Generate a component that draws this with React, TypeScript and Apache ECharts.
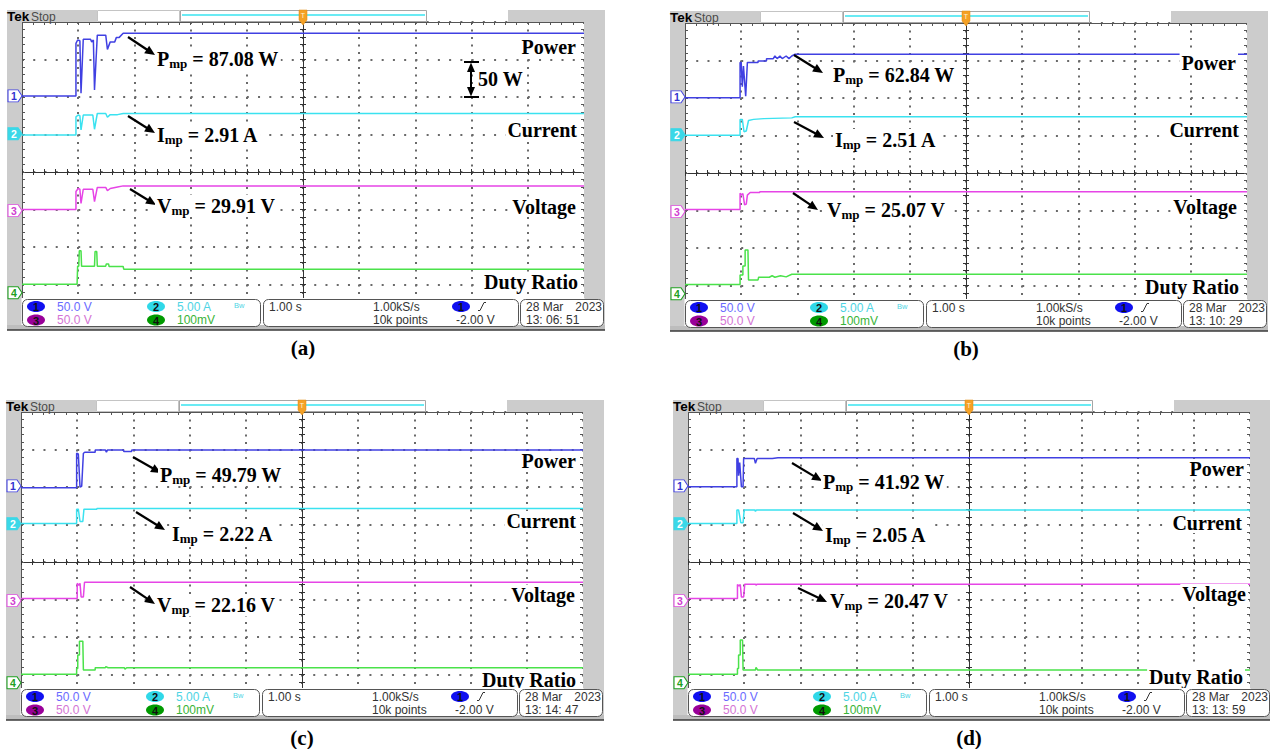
import React, { useEffect, useRef } from 'react';
import * as echarts from 'echarts';

// ---------------- data (vertical in divisions, time in s relative to trigger, 1 s/div) ----------------
const panelCaptions = ['(a)', '(b)', '(c)', '(d)'];
const traceLabels = ['Power', 'Current', 'Voltage', 'Duty Ratio'];
const pmpLabels = ['87.08 W', '62.84 W', '49.79 W', '41.92 W'];
const impLabels = ['2.91 A', '2.51 A', '2.22 A', '2.05 A'];
const vmpLabels = ['29.91 V', '25.07 V', '22.16 V', '20.47 V'];
const clockTimes = ['13: 06: 51', '13: 10: 29', '13: 14: 47', '13: 13: 59'];
const channelScales = ['50.0 V', '5.00 A', '50.0 V', '100mV'];
const groundMarkers = [2.03, 1.02, -1.03, -3.22];
const timebaseText = '1.00 s';
const sampleRateText = '1.00kS/s';
const recordText = '10k points';
const triggerText = '-2.00 V';
const dateText = '28 Mar';
const yearText = '2023';
const scaleNote = '50 W';

const aPower = [[-5, 2.03], [-4.04, 2.03], [-4.04, 3.43], [-4.01, 3.52], [-3.97, 3.5], [-3.95, 2.1], [-3.91, 3.54], [-3.78, 3.54], [-3.76, 3.47], [-3.73, 3.52], [-3.71, 2.19], [-3.66, 3.65], [-3.51, 3.65], [-3.48, 3.27], [-3.43, 3.47], [-3.35, 3.47], [-3.32, 3.59], [-3.27, 3.59], [-3.2, 3.7], [5, 3.7]];
const aCurrent = [[-5, 0.99], [-4.04, 0.99], [-4.04, 1.47], [-4.0, 1.52], [-3.97, 1.5], [-3.95, 1.12], [-3.91, 1.52], [-3.74, 1.52], [-3.71, 1.14], [-3.66, 1.56], [-3.51, 1.56], [-3.48, 1.46], [-3.43, 1.53], [-3.3, 1.53], [-3.2, 1.56], [5, 1.56]];
const aVoltage = [[-5, -1.0], [-4.04, -1.0], [-4.04, -0.52], [-4.0, -0.44], [-3.97, -0.46], [-3.95, -0.84], [-3.91, -0.46], [-3.74, -0.46], [-3.71, -0.79], [-3.66, -0.41], [-3.51, -0.41], [-3.48, -0.5], [-3.43, -0.44], [-3.3, -0.4], [-3.2, -0.37], [5, -0.37]];
const aDuty = [[-5, -2.99], [-4.02, -2.99], [-4.01, -2.51], [-3.99, -2.51], [-3.98, -2.1], [-3.95, -2.1], [-3.94, -2.51], [-3.71, -2.51], [-3.7, -2.12], [-3.67, -2.12], [-3.66, -2.51], [-3.51, -2.51], [-3.5, -2.45], [-3.46, -2.45], [-3.45, -2.52], [-3.2, -2.52], [-3.19, -2.59], [5, -2.59]];

const bPower = [[-5, 2.01], [-4.02, 2.01], [-4.02, 2.95], [-4.0, 2.95], [-3.98, 2.3], [-3.96, 2.85], [-3.92, 2.05], [-3.89, 2.95], [-3.7, 2.95], [-3.7, 2.99], [-3.55, 2.99], [-3.55, 3.05], [-3.43, 3.05], [-3.4, 3.12], [-3.36, 3.05], [-3.31, 3.12], [-3.27, 3.05], [-3.2, 3.12], [-3.15, 3.05], [-3.1, 3.12], [-3.04, 3.17], [5, 3.17]];
const bCurrent = [[-5, 1.01], [-4.02, 1.01], [-4.02, 1.43], [-3.98, 1.43], [-3.95, 1.1], [-3.91, 1.12], [-3.87, 1.4], [-3.78, 1.43], [-3.6, 1.45], [-3.1, 1.47], [-3.04, 1.5], [5, 1.5]];
const bVoltage = [[-5, -0.97], [-4.02, -0.97], [-4.02, -0.54], [-3.99, -0.58], [-3.97, -0.55], [-3.94, -0.85], [-3.91, -0.83], [-3.89, -0.59], [-3.84, -0.52], [-3.67, -0.52], [-3.67, -0.5], [5, -0.5]];
const bDuty = [[-5, -2.97], [-4.02, -2.97], [-4.02, -2.72], [-3.97, -2.72], [-3.97, -2.48], [-3.93, -2.48], [-3.93, -2.05], [-3.88, -2.05], [-3.87, -2.85], [-3.7, -2.85], [-3.69, -2.78], [-3.5, -2.78], [-3.45, -2.74], [-3.4, -2.78], [-3.3, -2.74], [-3.2, -2.77], [-3.1, -2.7], [5, -2.7]];

const cPower = [[-5, 1.98], [-4.01, 1.98], [-4.01, 2.9], [-3.98, 2.88], [-3.95, 2.0], [-3.92, 2.02], [-3.89, 2.9], [-3.86, 2.93], [-3.68, 2.93], [-3.68, 2.99], [-3.5, 2.99], [-3.48, 2.93], [-3.46, 2.99], [-3.18, 2.99], [-3.17, 2.95], [-3.03, 2.95], [-3.03, 2.99], [5, 2.99]];
const cCurrent = [[-5, 1.03], [-4.01, 1.03], [-4.01, 1.41], [-3.98, 1.41], [-3.95, 1.08], [-3.9, 1.08], [-3.88, 1.41], [-3.65, 1.41], [-3.65, 1.43], [5, 1.43]];
const cVoltage = [[-5, -0.97], [-4.0, -0.97], [-4.0, -0.57], [-3.97, -0.62], [-3.95, -0.57], [-3.93, -0.93], [-3.89, -0.93], [-3.87, -0.54], [5, -0.54]];
const cDuty = [[-5, -2.99], [-4.01, -2.99], [-4.01, -2.84], [-3.99, -2.84], [-3.99, -2.48], [-3.96, -2.48], [-3.96, -2.11], [-3.9, -2.11], [-3.89, -2.88], [-3.68, -2.88], [-3.68, -2.82], [-3.5, -2.82], [-3.49, -2.79], [-3.45, -2.82], [-3.16, -2.82], [-3.15, -2.86], [-3.12, -2.82], [5, -2.82]];

const dPower = [[-5, 2.01], [-4.13, 2.01], [-4.13, 2.76], [-4.11, 2.76], [-4.1, 2.3], [-4.08, 2.65], [-4.05, 2.01], [-4.02, 2.01], [-4.01, 2.76], [-3.82, 2.76], [-3.8, 2.63], [-3.77, 2.76], [-3.5, 2.76], [-3.4, 2.78], [5, 2.78]];
const dCurrent = [[-5, 1.03], [-4.13, 1.03], [-4.13, 1.39], [-4.1, 1.39], [-4.06, 1.05], [-4.02, 1.05], [-4.0, 1.39], [-3.81, 1.39], [-3.8, 1.35], [-3.78, 1.39], [5, 1.39]];
const dVoltage = [[-5, -0.97], [-4.12, -0.97], [-4.12, -0.6], [-4.09, -0.64], [-4.07, -0.6], [-4.05, -0.93], [-4.01, -0.93], [-3.99, -0.59], [-3.8, -0.59], [-3.79, -0.62], [-3.77, -0.59], [5, -0.59]];
const dDuty = [[-5, -2.99], [-4.12, -2.99], [-4.12, -2.84], [-4.1, -2.84], [-4.1, -2.48], [-4.07, -2.48], [-4.07, -2.08], [-4.03, -2.08], [-4.02, -2.88], [-3.8, -2.88], [-3.79, -2.81], [-3.76, -2.88], [5, -2.88]];

const traces = [
  [aPower, aCurrent, aVoltage, aDuty],
  [bPower, bCurrent, bVoltage, bDuty],
  [cPower, cCurrent, cVoltage, cDuty],
  [dPower, dCurrent, dVoltage, dDuty],
];

// ---------------- layout & styles ----------------
const GW = 562;
const GH = 300;
const SERIF = '"Liberation Serif", "Times New Roman", serif';
const SANS = '"Liberation Sans", Arial, sans-serif';
const TRACE_COLORS = ['#4040e2', '#3ae2f0', '#e644e6', '#4ae24a'];
const MARKER_FILL = ['#ffffff', '#3ad8e8', '#ffffff', '#ffffff'];
const MARKER_BORDER = ['#4040e2', '#3ad8e8', '#e050e0', '#20a020'];
const MARKER_TEXT = ['#3030d0', '#ffffff', '#d040d0', '#20a020'];
const BADGE_FILL = ['#1010f0', '#30d8e8', '#990099', '#009a00'];
const SCALE_TEXT = ['#6a6aff', '#4ed4e4', '#d474d4', '#38b438'];
const CENTER = '#333333';
const BORDER = '#555555';
const DOT = '#6a6a6a';
const GRAY = '#cccccc';

type Layout = {
  gx: number; gy: number;
  p: number[]; pa: number[]; i: number[]; ia: number[]; v: number[]; va: number[];
  labels: number[][]; scaleBar?: boolean;
};

const LAYOUTS: Layout[] = [
  { gx: 22, gy: 22, p: [135, 37], pa: [106, 15, 133, 33], i: [135, 113], ia: [106, 94, 133, 111], v: [135, 184], va: [108, 167, 134, 183], labels: [[554, 25], [555, 108], [554, 185], [556, 260]], scaleBar: true },
  { gx: 685, gy: 23, p: [148, 52], pa: [109, 32, 138, 50], i: [150, 117], ia: [109, 99, 139, 115], v: [142, 187], va: [108, 170, 133, 187], labels: [[551, 40], [554, 107], [552, 184], [554, 264]] },
  { gx: 21, gy: 412, p: [139, 63], pa: [112, 45, 140, 61], i: [151, 122], ia: [115, 100, 144, 118], v: [136, 193], va: [109, 175, 134, 192], labels: [[555, 49], [555, 109], [554, 183], [555, 268]] },
  { gx: 688, gy: 412, p: [135, 70], pa: [104, 51, 134, 69], i: [137, 123], ia: [105, 101, 135, 119], v: [142, 189], va: [110, 176, 139, 190], labels: [[556, 57], [554, 111], [558, 182], [555, 265]] },
];

function rect(x: number, y: number, w: number, h: number, fill: string, z: number, extra: any = {}) {
  return { type: 'rect', shape: { x, y, width: w, height: h, r: extra.r || 0 }, style: { fill, stroke: extra.stroke, lineWidth: extra.lineWidth || 0 }, z, silent: true };
}
function line(x1: number, y1: number, x2: number, y2: number, stroke: string, lineWidth: number, z: number) {
  return { type: 'line', shape: { x1, y1, x2, y2 }, style: { stroke, lineWidth }, z, silent: true };
}
function text(x: number, y: number, str: string, size: number, family: string, weight: string, fill: string, align: string, z: number, bg?: boolean) {
  const style: any = { text: str, fontSize: size, fontFamily: family, fontWeight: weight, fill, align, verticalAlign: 'middle' };
  if (bg) { style.backgroundColor = '#ffffff'; style.padding = [0, 2]; }
  return { type: 'text', x, y, style, z, silent: true };
}
function arrow(x1: number, y1: number, x2: number, y2: number, z = 30) {
  const dx = x2 - x1, dy = y2 - y1;
  const len = Math.hypot(dx, dy);
  const ux = dx / len, uy = dy / len;
  const hl = 10, hw = 4.5;
  const bx = x2 - ux * hl, by = y2 - uy * hl;
  return [
    line(x1, y1, bx + ux * 1, by + uy * 1, '#000', 2.2, z),
    { type: 'polygon', shape: { points: [[x2, y2], [bx - uy * hw, by + ux * hw], [bx + uy * hw, by - ux * hw]] }, style: { fill: '#000' }, z, silent: true },
  ];
}
function subText(x: number, y: number, sym: string, val: string, z = 30) {
  return {
    type: 'text', x, y, z, silent: true,
    style: {
      text: `{b|${sym}}{s|mp}{b| = ${val}}`,
      align: 'left', verticalAlign: 'middle',
      backgroundColor: '#ffffff',
      padding: [0, 2],
      rich: {
        b: { fontFamily: SERIF, fontSize: 20, fontWeight: 'bold', fill: '#000', lineHeight: 22 },
        s: { fontFamily: SERIF, fontSize: 13, fontWeight: 'bold', fill: '#000', lineHeight: 16, verticalAlign: 'bottom' },
      },
    },
  };
}

function buildGraphics() {
  const els: any[] = [];
  LAYOUTS.forEach((L, k) => {
    const { gx, gy } = L;
    els.push(rect(gx - 15, gy - 12, 15, 320, GRAY, 1));
    els.push(rect(gx - 15, gy - 12, 90, 12, GRAY, 1));
    els.push(rect(gx + 75.5, gy - 11.5, 82, 11, '#ffffff', 1, { stroke: '#c4c4c4', lineWidth: 1 }));
    els.push(rect(gx + 158.5, gy - 11.5, 246, 11, '#ffffff', 1, { stroke: '#a6a6a6', lineWidth: 1 }));
    els.push(line(gx + 160, gy - 7, gx + 403, gy - 7, '#38e4f0', 1.5, 2));
    els.push(rect(gx + 486, gy - 12, 97, 12, GRAY, 1));
    els.push(rect(gx + 562, gy - 12, 21, 320, GRAY, 1));
    els.push(text(gx - 15, gy - 5.5, 'Tek', 13.5, SANS, 'bold', '#000', 'left', 3));
    els.push(text(gx + 9, gy - 5.5, 'Stop', 12, SANS, 'normal', '#4a4a4a', 'left', 3));

    els.push(rect(gx - 0.5, gy + 276, 563, 30, '#ffffff', 50));
    els.push(rect(gx - 15, gy + 303, 598, 5, '#bdbdbd', 50));
    els.push(line(gx - 15, gy + 308, gx + 583, gy + 308, '#3a3a3a', 1.5, 51));
    els.push(rect(gx + 0.5, gy + 277.5, 238, 27, '#ffffff', 51, { stroke: '#555', lineWidth: 1, r: 5 }));
    els.push(rect(gx + 241.5, gy + 277.5, 255, 27, '#ffffff', 51, { stroke: '#555', lineWidth: 1, r: 5 }));
    els.push(rect(gx + 498.5, gy + 277.5, 83, 27, '#ffffff', 51, { stroke: '#555', lineWidth: 1, r: 5 }));
    const r1 = gy + 284.5, r2 = gy + 298;
    const badgePos = [[gx + 14, r1], [gx + 134, r1], [gx + 14, r2], [gx + 134, r2]];
    badgePos.forEach(([bx, by], c) => {
      els.push({ type: 'ellipse', shape: { cx: bx, cy: by, rx: 9, ry: 5.5 }, style: { fill: BADGE_FILL[c] }, z: 52, silent: true });
      els.push(text(bx, by + 0.5, String(c + 1), 11, SANS, 'bold', '#111', 'center', 53));
      els.push(text(bx + 21, by, channelScales[c], 12, SANS, 'normal', SCALE_TEXT[c], 'left', 53));
    });
    els.push(text(gx + 212, r1 - 1, 'Bw', 7.5, SANS, 'normal', SCALE_TEXT[1], 'left', 53));
    els.push(text(gx + 247, r1, timebaseText, 12, SANS, 'normal', '#333', 'left', 53));
    els.push(text(gx + 351, r1, sampleRateText, 12, SANS, 'normal', '#333', 'left', 53));
    els.push(text(gx + 351, r2, recordText, 12, SANS, 'normal', '#333', 'left', 53));
    els.push({ type: 'ellipse', shape: { cx: gx + 439, cy: r1, rx: 9, ry: 5.5 }, style: { fill: BADGE_FILL[0] }, z: 52, silent: true });
    els.push(text(gx + 439, r1 + 0.5, '1', 11, SANS, 'bold', '#111', 'center', 53));
    els.push({ type: 'polyline', shape: { points: [[gx + 456, r1 + 4], [gx + 458, r1 + 4], [gx + 462, r1 - 4], [gx + 464, r1 - 4]] }, style: { stroke: '#333', lineWidth: 1, fill: 'none' }, z: 53, silent: true });
    els.push(text(gx + 434, r2, triggerText, 12, SANS, 'normal', '#333', 'left', 53));
    els.push(text(gx + 504, r1, dateText, 12, SANS, 'normal', '#333', 'left', 53));
    els.push(text(gx + 580, r1, yearText, 12, SANS, 'normal', '#333', 'right', 53));
    els.push(text(gx + 504, r2, clockTimes[k], 12, SANS, 'normal', '#333', 'left', 53));

    els.push(text(gx + 281, gy + 326, panelCaptions[k], 21, SERIF, 'bold', '#000', 'center', 30));

    L.labels.forEach(([lx, ly], j) => {
      els.push(text(gx + lx + 2, gy + ly, traceLabels[j], 20, SERIF, 'bold', '#000', 'right', 30, true));
    });

    els.push(...arrow(gx + L.pa[0], gy + L.pa[1], gx + L.pa[2], gy + L.pa[3]));
    els.push(subText(gx + L.p[0] - 2, gy + L.p[1], 'P', pmpLabels[k]));
    els.push(...arrow(gx + L.ia[0], gy + L.ia[1], gx + L.ia[2], gy + L.ia[3]));
    els.push(subText(gx + L.i[0] - 2, gy + L.i[1], 'I', impLabels[k]));
    els.push(...arrow(gx + L.va[0], gy + L.va[1], gx + L.va[2], gy + L.va[3]));
    els.push(subText(gx + L.v[0] - 2, gy + L.v[1], 'V', vmpLabels[k]));

    if (L.scaleBar) {
      const sx = gx + 449, t = gy + 40, b = gy + 75;
      els.push(line(sx - 7, t, sx + 8, t, '#000', 2, 30));
      els.push(line(sx - 7, b, sx + 8, b, '#000', 2, 30));
      els.push(line(sx, t + 8, sx, b - 8, '#000', 2, 30));
      els.push({ type: 'polygon', shape: { points: [[sx, t + 0.5], [sx - 4, t + 10], [sx + 4, t + 10]] }, style: { fill: '#000' }, z: 30, silent: true });
      els.push({ type: 'polygon', shape: { points: [[sx, b - 0.5], [sx - 4, b - 10], [sx + 4, b - 10]] }, style: { fill: '#000' }, z: 30, silent: true });
      els.push(text(gx + 454, gy + 57, scaleNote, 20, SERIF, 'bold', '#000', 'left', 30, true));
    }
  });
  return els;
}

function buildOption() {
  const grid: any[] = [];
  const xAxis: any[] = [];
  const yAxis: any[] = [];
  const series: any[] = [];
  const gridX: any[] = [];
  const gridY: any[] = [];
  const hidden = () => ({ axisLabel: { show: false }, minorSplitLine: { show: false }, axisPointer: { show: false }, silent: true });

  LAYOUTS.forEach((L, k) => {
    grid.push({ left: L.gx, top: L.gy, width: GW, height: GH, show: false });
    const xBase = () => ({ gridIndex: k, type: 'value', min: -5, max: 5, interval: 1, ...hidden() });
    const yBase = () => ({ gridIndex: k, type: 'value', min: -4, max: 4, interval: 1, ...hidden() });
    xAxis.push({ ...xBase(), position: 'bottom', axisLine: { show: true, onZero: true, onZeroAxisIndex: k * 4, lineStyle: { color: CENTER, width: 1 } }, axisTick: { show: true, inside: false, length: 3, lineStyle: { color: CENTER } }, minorTick: { show: true, splitNumber: 5, length: 3, lineStyle: { color: CENTER } }, splitLine: { show: false } });
    xAxis.push({ ...xBase(), position: 'top', axisLine: { show: false, onZero: true, onZeroAxisIndex: k * 4 }, axisTick: { show: true, inside: false, length: 3, lineStyle: { color: CENTER } }, minorTick: { show: true, splitNumber: 5, length: 3, lineStyle: { color: CENTER } }, splitLine: { show: false } });
    xAxis.push({ ...xBase(), position: 'top', axisLine: { show: true, onZero: false, lineStyle: { color: BORDER } }, axisTick: { show: true, inside: true, length: 3, lineStyle: { color: BORDER } }, minorTick: { show: true, splitNumber: 5, length: 3, lineStyle: { color: BORDER } }, splitLine: { show: false } });
    yAxis.push({ ...yBase(), position: 'left', axisLine: { show: true, onZero: true, onZeroAxisIndex: k * 3, lineStyle: { color: CENTER, width: 1 } }, axisTick: { show: true, inside: false, length: 3, lineStyle: { color: CENTER } }, minorTick: { show: true, splitNumber: 5, length: 3, lineStyle: { color: CENTER } }, splitLine: { show: false } });
    yAxis.push({ ...yBase(), position: 'right', axisLine: { show: false, onZero: true, onZeroAxisIndex: k * 3 }, axisTick: { show: true, inside: false, length: 3, lineStyle: { color: CENTER } }, minorTick: { show: true, splitNumber: 5, length: 3, lineStyle: { color: CENTER } }, splitLine: { show: false } });
    yAxis.push({ ...yBase(), position: 'left', axisLine: { show: true, onZero: false, lineStyle: { color: BORDER } }, axisTick: { show: true, inside: true, length: 3, lineStyle: { color: BORDER } }, minorTick: { show: true, splitNumber: 5, length: 3, lineStyle: { color: BORDER } }, splitLine: { show: false } });
    yAxis.push({ ...yBase(), position: 'right', axisLine: { show: true, onZero: false, lineStyle: { color: BORDER } }, axisTick: { show: true, inside: true, length: 3, lineStyle: { color: BORDER } }, minorTick: { show: true, splitNumber: 5, length: 3, lineStyle: { color: BORDER } }, splitLine: { show: false } });

    // dedicated graticule axes for the dotted division lines
    gridX.push({ ...xBase(), position: 'bottom', axisLine: { show: false, onZero: false }, axisTick: { show: false }, minorTick: { show: false }, splitLine: { show: true, lineStyle: { color: DOT, width: 2, type: [2, 5.5] } } });
    gridY.push({ ...yBase(), position: 'left', axisLine: { show: false, onZero: false }, axisTick: { show: false }, minorTick: { show: false }, splitLine: { show: true, lineStyle: { color: DOT, width: 2, type: [2, 9.24] } } });

    traces[k].forEach((data, j) => {
      const markData: any[] = [{
        coord: [-5, groundMarkers[j]],
        symbol: 'path://M0,0 L10,0 L14,6 L10,12 L0,12 Z',
        symbolSize: [14, 12],
        symbolOffset: [-7, 0],
        itemStyle: { color: MARKER_FILL[j], borderColor: MARKER_BORDER[j], borderWidth: 1 },
        label: { show: true, position: 'inside', formatter: String(j + 1), color: MARKER_TEXT[j], fontSize: 10.5, fontWeight: 'bold', fontFamily: SANS, offset: [-1, 0] },
      }];
      if (j === 0) {
        markData.push({
          coord: [0, 4],
          symbol: 'path://M0,0 L8,0 L8,10 L4,15 L0,10 Z',
          symbolSize: [8, 15],
          symbolOffset: [0, -4.5],
          itemStyle: { color: '#f4a126', borderColor: '#e08a10', borderWidth: 0.5 },
          label: { show: true, position: 'inside', formatter: 'T', color: '#fff3d0', fontSize: 7, fontFamily: SANS, offset: [0, -2] },
        });
      }
      series.push({
        type: 'line',
        name: `${panelCaptions[k]} ${traceLabels[j]}`,
        xAxisIndex: k * 3,
        yAxisIndex: k * 4,
        data,
        showSymbol: false,
        symbol: 'none',
        clip: true,
        silent: true,
        z: 3,
        lineStyle: { color: TRACE_COLORS[j], width: 1.5 },
        itemStyle: { color: TRACE_COLORS[j] },
        markPoint: { z: 60, silent: true, animation: false, data: markData },
      });
    });
  });

  return {
    animation: false,
    grid,
    xAxis: [...xAxis, ...gridX],
    yAxis: [...yAxis, ...gridY],
    series,
    graphic: { elements: buildGraphics() },
  };
}

export default function App() {
  const ref = useRef<HTMLDivElement>(null);
  useEffect(() => {
    document.body.style.margin = '0';
    const chart = echarts.init(ref.current as HTMLDivElement, null, { renderer: 'svg' });
    chart.setOption(buildOption() as any);
    return () => chart.dispose();
  }, []);
  return <div ref={ref} style={{ width: 1270, height: 749, background: '#fff' }} />;
}
